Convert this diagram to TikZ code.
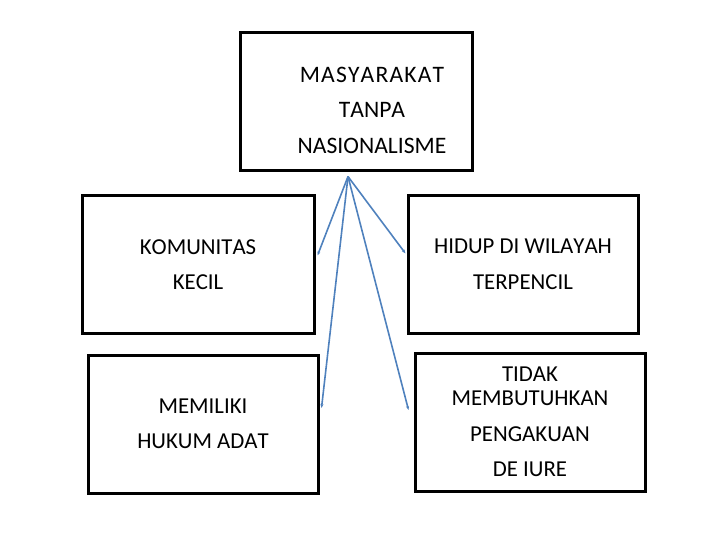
\documentclass[tikz,border=0pt]{standalone}
\usepackage{fontspec}
\setmainfont{Carlito}[Kerning=Off]
\usepackage{tikz}
\usetikzlibrary{arrows.meta}

\begin{document}
\begin{tikzpicture}[x=1pt,y=-1pt,
  box/.style={draw,line width=3pt,minimum height=137pt,font=\fontsize{22.8}{35.5}\selectfont,align=center},
  link/.style={-{Stealth[length=4pt,width=3pt]},draw={rgb,255:red,79;green,129;blue,189},line width=1.6pt}]
\useasboundingbox (0,0) rectangle (720,540);
\node[box,minimum width=232pt,minimum height=138pt] (top) at (356,102) {};
\node[font=\fontsize{23.6}{35.5}\selectfont,align=center] (toptext) at (372,110) {{\addfontfeature{LetterSpace=5}MASYARAKAT}\\TANPA\\NASIONALISME};
\node[box,minimum width=232pt] (kom) at (198,264.5) {KOMUNITAS\\KECIL};
\node[box,minimum width=230pt] (hidup) at (523,264.5) {HIDUP DI WILAYAH\\TERPENCIL};
\node[box,minimum width=230pt,minimum height=138pt] (hukum) at (203,424) {MEMILIKI\\HUKUM ADAT};
\node[box,minimum width=230pt,minimum height=138pt] (tidak) at (530,422) {TIDAK\\[-11.5pt]MEMBUTUHKAN\\PENGAKUAN\\DE IURE};
\coordinate (src) at ([xshift=-8pt,yshift=-4pt]top.south);
\draw[link] (src) -- ([xshift=2pt,yshift=9pt]kom.east);
\draw[link] (src) -- ([xshift=-1pt,yshift=11pt]hidup.west);
\draw[link] (src) -- ([xshift=2pt,yshift=16pt]hukum.east);
\draw[link] (src) -- ([xshift=-5pt,yshift=12pt]tidak.west);
\end{tikzpicture}
\end{document}
